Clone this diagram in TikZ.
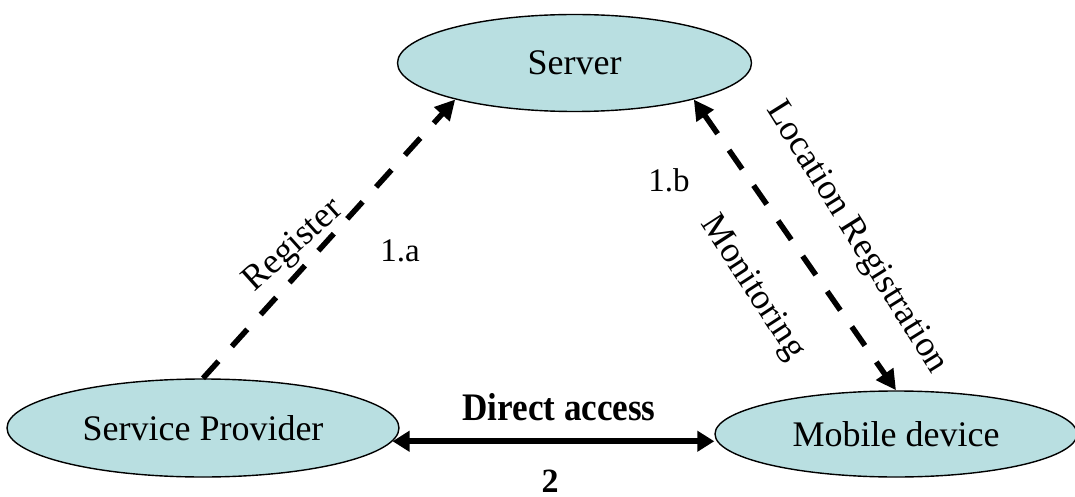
\documentclass[tikz,border=0pt]{standalone}
\usepackage{fontspec}
\setmainfont{Liberation Serif}
\usetikzlibrary{shapes.geometric,arrows.meta}
\definecolor{cloud}{RGB}{185,223,225}
\tikzset{
  headA/.tip={Triangle[length=20pt,width=20pt]},
  headB/.tip={Triangle[length=17pt,width=20pt]},
}
\begin{document}
\begin{tikzpicture}[x=1pt,y=1pt,
  entity/.style={ellipse, draw=black, line width=1.4pt, fill=cloud, inner sep=0pt,
                 font=\fontsize{36}{40}\selectfont},
  flow/.style={line width=5.5pt, dash pattern=on 23pt off 20pt},
  tag/.style={font=\fontsize{36}{40}\selectfont, inner sep=0pt},
]
\useasboundingbox (0,0) rectangle (1075,496);

% the three parties
\node[entity, minimum width=354pt, minimum height=97pt] (srv) at (574.5,433) {Server};
\node[entity, minimum width=392pt, minimum height=98pt] (sp)  at (203,68)  {Service Provider};
\node[entity, minimum width=362pt, minimum height=86pt] (mob) at (896,62)  {Mobile device};

% registration and monitoring flows
\draw[flow, -{headA}] (sp.north) -- (srv.197.5);
\draw[flow, {headA}-{headA}] (srv.-17.5) -- (mob.north);

% direct access between provider and device
\draw[line width=6pt, {headB}-{headB}] (sp.-4) -- (sp.-4 -| mob.west);

% labels
\node[tag, rotate=42] (lreg) at (294,250) {Register};
\node[tag, font=\fontsize{33}{36}\selectfont] (la) at (400,245) {1.a};
\node[tag, font=\fontsize{33}{36}\selectfont] (lb) at (669,316) {1.b};
\node[tag, rotate=-57] (lmon) at (752,208) {Monitoring};
\node[tag, rotate=-58] (lloc) at (856,258) {Location Registration};
\node[tag, xscale=0.9, font=\bfseries\fontsize{39}{42}\selectfont] (ldir) at (559,89) {Direct access};
\node[tag, font=\bfseries\fontsize{34}{38}\selectfont] (lnum) at (550,15) {2};
\end{tikzpicture}
\end{document}
